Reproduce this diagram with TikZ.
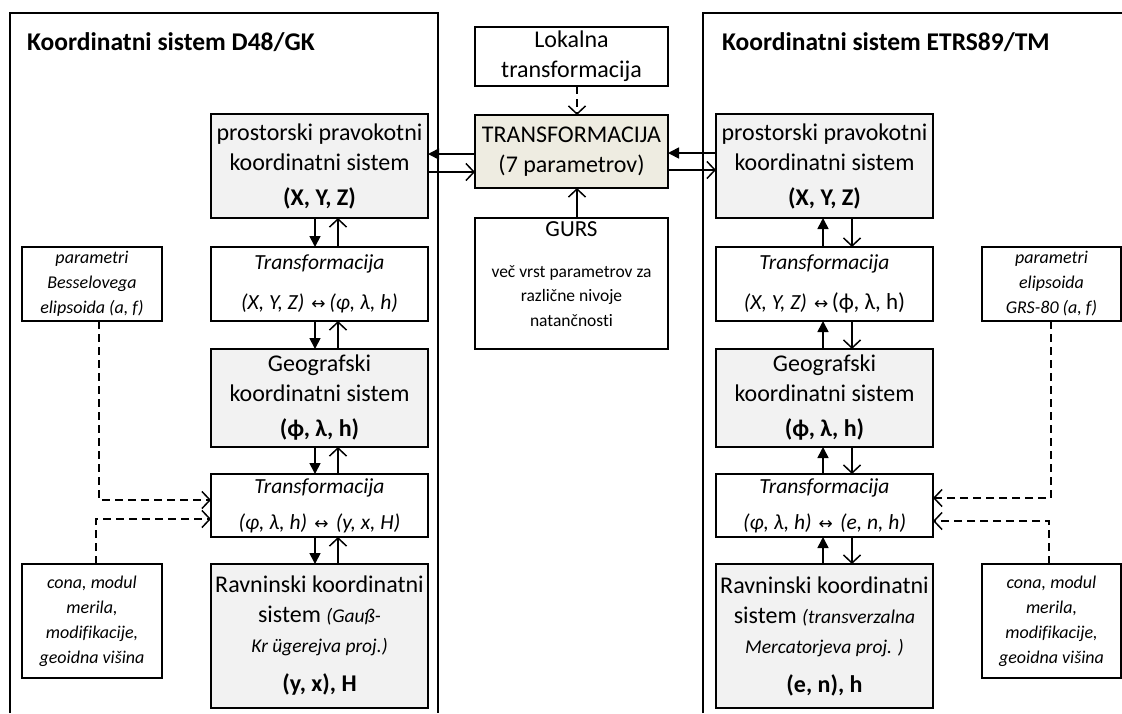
\documentclass[tikz,border=0pt]{standalone}
\usepackage{fontspec}
\setmainfont{Carlito}[Ligatures=NoCommon]
\newfontfamily\symf{DejaVu Sans}
\usetikzlibrary{arrows.meta}
\definecolor{boxgray}{HTML}{F2F2F2}
\definecolor{beige}{HTML}{EEECE1}
\newcommand{\lra}{{\symf\fontsize{17}{20}\selectfont ↔}}
\tikzset{
  bx/.style={draw, line width=1.8pt, inner sep=0pt, outer sep=0pt, align=center, anchor=north west},
  gr/.style={bx, fill=boxgray},
  big/.style={font=\fontsize{24}{30}\selectfont},
  mid/.style={font=\fontsize{21.5}{30}\selectfont},
  sml/.style={font=\fontsize{18}{25}\selectfont\itshape},
  ttl/.style={font=\fontsize{25.5}{30}\selectfont\bfseries, anchor=base west, inner sep=0pt},
  panel/.style={line width=2pt},
  fa/.style={-{Triangle[length=11pt,width=11pt]}, line width=1.7pt},
  oa/.style={-{Straight Barb[length=8pt,width=17pt,line width=1.5pt]}, line width=1.5pt},
  da/.style={oa, line width=1.8pt, dash pattern=on 8pt off 5pt},
}
\begin{document}
\begin{tikzpicture}[x=1pt,y=-1pt]
\useasboundingbox (0,0) rectangle (1122,713);
% panels
\draw[panel] (10,713) -- (10,13) -- (438,13) -- (438,713);
\draw[panel] (703,713) -- (703,13) -- (1130,13);
\node[ttl] (tl) at (27,50) {Koordinatni sistem D48/GK};
\node[ttl] (tr) at (722,50) {Koordinatni sistem ETRS89/TM};

% left column
\node[gr, big, minimum width=217pt, minimum height=104pt] (L1) at (211,114)
  {prostorski pravokotni\\koordinatni sistem\\[5pt]\textbf{(X, Y, Z)}};
\node[bx, mid, minimum width=217pt, minimum height=74pt] (L2) at (211,247)
  {\textit{Transformacija}\\[10pt]\textit{(X, Y, Z)}\,\,\lra\,\textit{(φ, λ, h)}};
\node[gr, big, minimum width=217pt, minimum height=98pt] (L3) at (211,349)
  {Geografski\\koordinatni sistem\\[5pt]\textbf{(ϕ, λ, h)}};
\node[bx, mid, minimum width=217pt, minimum height=63pt] (L4) at (211,474)
  {\textit{Transformacija}\\[6pt]\textit{(φ, λ, h)}\,\,\lra\,\,\textit{(y, x, H)}};
\node[gr, big, minimum width=217pt, minimum height=144pt] (L5) at (211,564)
  {Ravninski koordinatni\\sistem {\fontsize{19.5}{30}\selectfont\itshape (Gauß-}\\{\fontsize{19.5}{31}\selectfont\itshape Kr ügerejva proj.)}\\[9pt]\textbf{(y, x), H}};

% right column
\node[gr, big, minimum width=217pt, minimum height=104pt] (R1) at (716,114)
  {prostorski pravokotni\\koordinatni sistem\\[5pt]\textbf{(X, Y, Z)}};
\node[bx, mid, minimum width=217pt, minimum height=74pt] (R2) at (716,247)
  {\textit{Transformacija}\\[10pt]\textit{(X, Y, Z)}\,\,\lra\,{\fontsize{23}{30}\selectfont(ϕ, λ, h)}};
\node[gr, big, minimum width=217pt, minimum height=98pt] (R3) at (716,349)
  {Geografski\\koordinatni sistem\\[5pt]\textbf{(ϕ, λ, h)}};
\node[bx, mid, minimum width=217pt, minimum height=63pt] (R4) at (716,474)
  {\textit{Transformacija}\\[6pt]\textit{(φ, λ, h)}\,\,\lra\,\,\textit{(e, n, h)}};
\node[gr, big, minimum width=217pt, minimum height=144pt] (R5) at (716,564)
  {Ravninski koordinatni\\sistem {\fontsize{19.5}{30}\selectfont\itshape (transverzalna}\\{\fontsize{19.5}{31}\selectfont\itshape Mercatorjeva proj. )}\\[9pt]\textbf{(e, n), h}};

% middle
\node[bx, big, minimum width=193pt, minimum height=59pt] (LT) at (475,27)
  {Lokalna\\transformacija};
\node[bx, big, fill=beige, minimum width=193pt, minimum height=73pt] (TR) at (475,115)
  {TRANSFORMACIJA\\(7 parametrov)};
\node[bx, minimum width=193pt, minimum height=131pt] (GU) at (475,218) {};
\node[font=\fontsize{23}{28}\selectfont, inner sep=0pt] (gut) at (571.5,229) {GURS};
\node[font=\fontsize{17.5}{24.5}\selectfont, align=center, inner sep=0pt] (gud) at (571.5,296)
  {več vrst parametrov za\\različne nivoje\\natančnosti};

% side boxes
\node[bx, sml, minimum width=140pt, minimum height=74pt] (PB) at (22,247)
  {parametri\\Besselovega\\elipsoida (a, f)};
\node[bx, sml, minimum width=140pt, minimum height=114pt] (CB) at (22,564)
  {cona, modul\\merila,\\modifikacije,\\geoidna višina};
\node[bx, sml, minimum width=139pt, minimum height=74pt] (PG) at (982,247)
  {parametri\\elipsoida\\GRS-80 (a, f)};
\node[bx, sml, minimum width=139pt, minimum height=114pt] (CG) at (982,564)
  {cona, modul\\merila,\\modifikacije,\\geoidna višina};

% vertical arrows left
\foreach \a/\b in {L1/L2, L2/L3, L3/L4, L4/L5}{
  \draw[fa] (\a.south -| 315,0) -- (\b.north -| 315,0);
  \draw[oa] (\b.north -| 338,0) -- (\a.south -| 338,0);
}
% vertical arrows right
\foreach \a/\b in {R1/R2, R2/R3, R3/R4, R4/R5}{
  \draw[fa] (\b.north -| 823,0) -- (\a.south -| 823,0);
  \draw[oa] (\a.south -| 852,0) -- (\b.north -| 852,0);
}
% horizontal arrows
\draw[fa] (TR.west |- 0,154) -- (L1.east |- 0,154);
\draw[oa] (L1.east |- 0,172) -- (TR.west |- 0,172);
\draw[fa] (R1.west |- 0,153) -- (TR.east |- 0,153);
\draw[oa] (TR.east |- 0,170) -- (R1.west |- 0,170);
% middle vertical
\draw[da] (LT.south -| 577,0) -- (TR.north -| 577,0);
\draw[oa] (GU.north -| 577,0) -- (TR.south -| 577,0);
% dashed parameter connectors
\draw[da] (PB.south -| 99,0) |- (L4.west |- 0,500);
\draw[da] (CB.north -| 96,0) |- (L4.west |- 0,519);
\draw[da] (PG.south -| 1051,0) |- (R4.east |- 0,498);
\draw[da] (CG.north -| 1049,0) |- (R4.east |- 0,521);
\end{tikzpicture}
\end{document}
